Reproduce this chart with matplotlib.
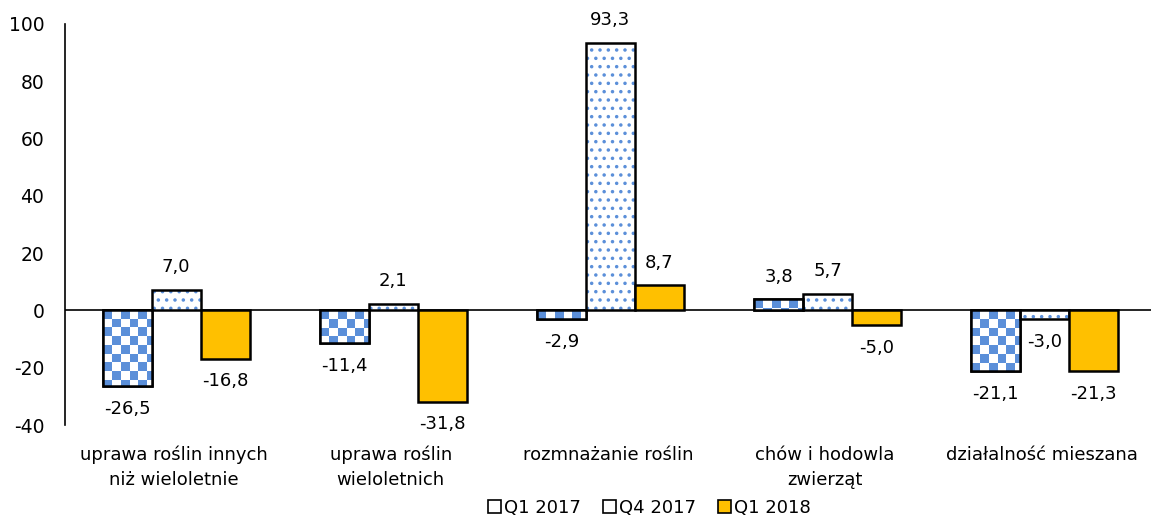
import numpy as np
import matplotlib.pyplot as plt
from matplotlib.colors import ListedColormap
from matplotlib.patches import Patch

categories = ["uprawa roślin innych\nniż wieloletnie", "uprawa roślin\nwieloletnich",
              "rozmnażanie roślin", "chów i hodowla\nzwierząt", "działalność mieszana"]
series_names = ["Q1 2017", "Q4 2017", "Q1 2018"]
q1_2017 = [-26.5, -11.4, -2.9, 3.8, -21.1]
q4_2017 = [7.0, 2.1, 93.3, 5.7, -3.0]
q1_2018 = [-16.8, -31.8, 8.7, -5.0, -21.3]

blue = "#5b8fd9"
yellow = "#ffc000"

plt.rcParams['font.family'] = ['DejaVu Sans']
plt.rcParams['axes.unicode_minus'] = False
plt.rcParams['hatch.linewidth'] = 1.3

fig = plt.figure(figsize=(11.6, 5.28), dpi=100)
ax = fig.add_axes([0.056, 0.195, 0.936, 0.76])
ax.set_xlim(-0.5, 4.5)
ax.set_ylim(-40, 100)

x = np.arange(len(categories)) + 0.012
w = 0.226


def fmt(v):
    return ("%.1f" % v).replace(".", ",")


def label_bars(bars, vals):
    # positive labels above the bar, negative below
    for b, v in zip(bars, vals):
        cx = b.get_x() + b.get_width() / 2
        if v >= 0:
            ax.annotate(fmt(v), (cx, v), xytext=(0, 10), textcoords="offset points",
                        ha="center", va="bottom", fontsize=13)
        else:
            ax.annotate(fmt(v), (cx, v), xytext=(0, -10), textcoords="offset points",
                        ha="center", va="top", fontsize=13)


# Q1 2017 - checkerboard fill clipped to each bar
b1 = ax.bar(x - w, q1_2017, w, color="white", edgecolor="black", linewidth=1.8, zorder=3)
fig.canvas.draw()
sq = 8.7  # checker size in pixels
for b in b1:
    x0, y0 = b.get_x(), min(0, b.get_height())
    x1, y1 = x0 + b.get_width(), max(0, b.get_height())
    p0 = ax.transData.transform((x0, y0))
    p1 = ax.transData.transform((x1, y1))
    nx = int(np.ceil((p1[0] - p0[0]) / sq)) + 1
    ny = int(np.ceil((p1[1] - p0[1]) / sq)) + 1
    ii, jj = np.indices((ny, nx))
    img = ((ii + jj + 1) % 2).astype(float)
    dx = (x1 - x0) * sq / (p1[0] - p0[0])
    dy = (y1 - y0) * sq / (p1[1] - p0[1])
    im = ax.imshow(img, extent=(x0, x0 + nx * dx, y1 - ny * dy, y1), origin="upper",
                   cmap=ListedColormap(["white", blue]),
                   interpolation="nearest", aspect="auto", zorder=3.5)
    im.set_clip_path(b)
ax.bar(x - w, q1_2017, w, color="none", edgecolor="black", linewidth=1.8, zorder=4)

# Q4 2017 - dotted
ax.bar(x, q4_2017, w, color="white", edgecolor=blue, hatch="..", linewidth=0, zorder=3)
b2 = ax.bar(x, q4_2017, w, color="none", edgecolor="black", linewidth=1.8, zorder=4)

# Q1 2018 - solid yellow
b3 = ax.bar(x + w, q1_2018, w, color=yellow, edgecolor="black", linewidth=1.8, zorder=4)

ax.set_xlim(-0.5, 4.5)
ax.set_ylim(-40, 100)

label_bars(b1, q1_2017)
label_bars(b2, q4_2017)
label_bars(b3, q1_2018)

ax.axhline(0, color="black", linewidth=1.2, zorder=2)
ax.set_yticks(np.arange(-40, 101, 20))
ax.tick_params(axis="y", length=0, labelsize=13.5, pad=15)
ax.set_xticks(np.arange(len(categories)))
ax.set_xticklabels(categories, fontsize=13, linespacing=1.5)
ax.tick_params(axis="x", length=0, pad=15)
for s in ["top", "right", "bottom"]:
    ax.spines[s].set_visible(False)
ax.spines["left"].set_linewidth(1.2)

# legend
handles = [
    Patch(facecolor="white", edgecolor="black", linewidth=1.2),
    Patch(facecolor="white", edgecolor="black", linewidth=1.2),
    Patch(facecolor=yellow, edgecolor="black", linewidth=1.2),
]
fig.legend(handles, series_names, loc="lower center", bbox_to_anchor=(0.56, -0.01),
           ncol=3, frameon=False, fontsize=13, handlelength=0.7, handleheight=0.7,
           handletextpad=0.2, columnspacing=1.2)

fig.savefig("out.png", dpi=100)
